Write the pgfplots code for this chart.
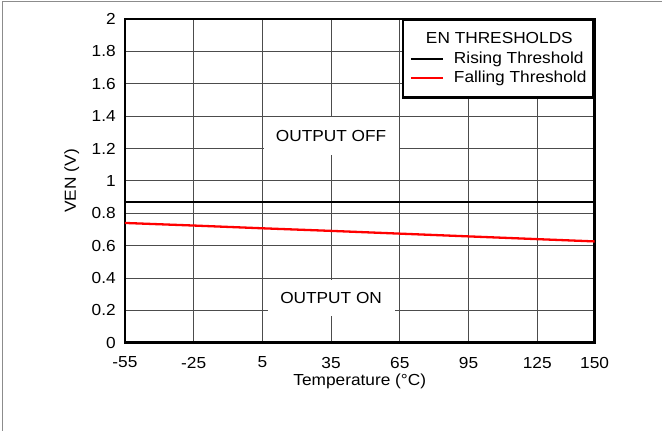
\documentclass[border=0pt]{standalone}
\usepackage{pgfplots}
\pgfplotsset{compat=1.18}
\usepackage{fontspec}
\setmainfont{Liberation Sans}[FakeStretch=1.08]

\begin{document}
\begin{tikzpicture}[font=\fontsize{16bp}{19bp}\selectfont]
\begin{axis}[
    name=ax,
    scale only axis,
    width=470bp, height=324bp,
    xmin=-55, xmax=150,
    ymin=0, ymax=2,
    xtick={-55,-25,5,35,65,95,125,150},
    xticklabels={-55,-25,5,35,65,95,125,150},
    ytick={0,0.2,...,2.01},
    /pgf/number format/assume math mode=true,
    /pgf/number format/fixed,
    /pgf/number format/precision=1,
    major tick length=0pt,
    axis line style={line width=2.5bp},
    grid=major,
    major grid style={black!70, line width=0.8bp},
    x tick label style={anchor=north, inner sep=0pt, yshift=-14bp},
    y tick label style={anchor=east, inner sep=0pt, xshift=-9bp},
    xlabel={Temperature (°C)},
    ylabel={VEN (V)},
    xlabel style={at={(axis description cs:0.5,-0.12)}, anchor=center},
    ylabel style={at={(axis description cs:-0.113,0.5)}, anchor=center},
    legend cell align=left,
    legend style={at={(1,1)}, anchor=north east, draw=black, line width=2.3bp,
        inner xsep=7bp, inner ysep=12bp, row sep=5bp, column sep=10bp,
        nodes={inner sep=0pt, text height=11.5bp, text depth=3bp, line width=0.8bp},
        font=\fontsize{16bp}{19bp}\selectfont},
    legend image code/.code={\draw[#1] (0bp,0bp) -- (32bp,0bp);},
]
\addlegendimage{empty legend}
\addlegendentry{\hspace*{-28bp}EN THRESHOLDS}
\addplot[black, line width=2.3bp] coordinates {
    (-55,0.868) (-25,0.868) (5,0.868) (35,0.868) (65,0.868) (95,0.868) (125,0.868) (150,0.868)
};
\addlegendentry{Rising Threshold}
\addplot[red, line width=2.3bp] coordinates {
    (-55,0.740) (-25,0.724) (5,0.707) (35,0.691) (65,0.674) (95,0.657) (125,0.640) (150,0.626)
};
\addlegendentry{Falling Threshold}
\node[fill=white, minimum width=135bp, minimum height=38bp, inner sep=0pt] at (axis cs:35,1.278) {OUTPUT OFF};
\node[fill=white, minimum width=127bp, minimum height=36bp, inner sep=0pt] at (axis cs:35,0.278) {OUTPUT ON};
\end{axis}
\path ([xshift=-125bp,yshift=-88bp]ax.south west) rectangle ([xshift=67bp,yshift=19bp]ax.north east);
\draw[black!45, line width=1bp] ([xshift=-122bp,yshift=-88bp]ax.south west) -- ([xshift=-122bp,yshift=17bp]ax.north west) -- ([xshift=67bp,yshift=17bp]ax.north east);
\end{tikzpicture}
\end{document}
